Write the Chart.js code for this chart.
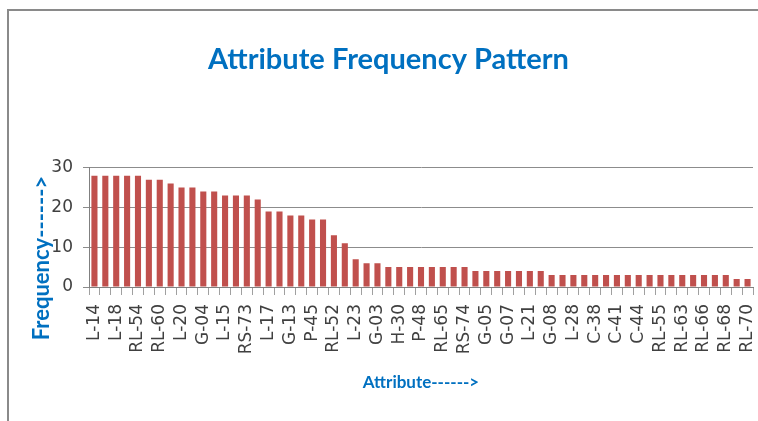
<!DOCTYPE html>
<html>
<head>
<meta charset="utf-8">
<script src="https://cdn.jsdelivr.net/npm/chart.js@4"></script>
<style>
  body { margin: 0; background: #fff; }
  #wrap { position: relative; width: 758px; height: 421px; }
  #frame { position: absolute; left: 7px; top: 9px; right: 0; bottom: 0;
           border-top: 2px solid #8a8a8a; border-left: 2px solid #8a8a8a; }
  canvas { position: absolute; left: 0; top: 0; }
</style>
</head>
<body>
<div id="wrap">
  <div id="frame"></div>
  <canvas id="chart" width="758" height="421"></canvas>
</div>
<script>
// only every other attribute name is printed on the axis; the hidden ones are left blank
const attributes = [
  'L-14', '', 'L-18', '', 'RL-54', '', 'RL-60', '', 'L-20', '', 'G-04', '',
  'L-15', '', 'RS-73', '', 'L-17', '', 'G-13', '', 'P-45', '', 'RL-52', '',
  'L-23', '', 'G-03', '', 'H-30', '', 'P-48', '', 'RL-65', '', 'RS-74', '',
  'G-05', '', 'G-07', '', 'L-21', '', 'G-08', '', 'L-28', '', 'C-38', '',
  'C-41', '', 'C-44', '', 'RL-55', '', 'RL-63', '', 'RL-66', '', 'RL-68', '',
  'RL-70'
];
const frequency = [
  28, 28, 28, 28, 28, 27, 27, 26, 25, 25, 24, 24,
  23, 23, 23, 22, 19, 19, 18, 18, 17, 17, 13, 11,
  7, 6, 6, 5, 5, 5, 5, 5, 5, 5, 5, 4,
  4, 4, 4, 4, 4, 4, 3, 3, 3, 3, 3, 3,
  3, 3, 3, 3, 3, 3, 3, 3, 3, 3, 3, 2,
  2
];
const yTicks = [0, 10, 20, 30];

const blue = '#0070C0';
const titleFont = "Lato, 'Liberation Sans', sans-serif";

// Excel puts the y title a bit below the middle of the plot, so draw it ourselves
const yTitle = {
    id: 'yTitle',
    afterDraw(chart) {
        const c = chart.ctx;
        const ys = chart.scales.y;
        c.save();
        c.translate(42, ys.bottom - 29);
        c.rotate(-Math.PI / 2);
        c.fillStyle = blue;
        c.font = 'bold 22px ' + titleFont;
        c.textAlign = 'center';
        c.textBaseline = 'middle';
        c.fillText('Frequency------>', 0, 0);
        c.restore();
    }
};

const ctx = document.getElementById('chart').getContext('2d');
const chart = new Chart(ctx, {
    type: 'bar',
    data: {
        labels: attributes,
        datasets: [{
            label: 'Frequency',
            data: frequency,
            backgroundColor: '#C0504D',
            barPercentage: 0.56,
            categoryPercentage: 1
        }]
    },
    options: {
        responsive: false,
        animation: false,
        layout: { padding: { left: 24, right: 5, top: 0, bottom: 0 } },
        plugins: {
            legend: { display: false },
            tooltip: { enabled: false },
            title: {
                display: true,
                text: 'Attribute Frequency Pattern',
                color: blue,
                font: { family: titleFont, size: 29, weight: 'bold', lineHeight: 1.3 },
                padding: { top: 41, bottom: 89 }
            }
        },
        scales: {
            x: {
                afterFit: (scale) => {
                    scale.height = 134;
                    scale.paddingLeft = 0;
                    scale.paddingRight = 0;
                },
                grid: {
                    offset: true,
                    drawOnChartArea: false,
                    drawTicks: true,
                    tickLength: 8,
                    color: '#a0a0a0'
                },
                border: { color: '#808080' },
                ticks: {
                    autoSkip: false,
                    maxRotation: 90,
                    minRotation: 90,
                    padding: 9,
                    color: '#404040',
                    font: { family: "'DejaVu Sans', sans-serif", size: 17 }
                },
                title: {
                    display: true,
                    text: 'Attribute------>',
                    color: blue,
                    font: { family: titleFont, size: 17, weight: 'bold' },
                    padding: { top: 0, bottom: 28 }
                }
            },
            y: {
                min: 0,
                max: 30,
                afterFit: (scale) => { scale.width = 65; },
                afterBuildTicks: (scale) => { scale.ticks = yTicks.map(v => ({ value: v })); },
                grid: {
                    color: '#8c8c8c',
                    tickLength: 6
                },
                border: { color: '#808080' },
                ticks: {
                    padding: 10,
                    color: '#404040',
                    font: { family: "'DejaVu Sans', sans-serif", size: 17 }
                }
            }
        }
    },
    plugins: [yTitle]
});
</script>
</body>
</html>
